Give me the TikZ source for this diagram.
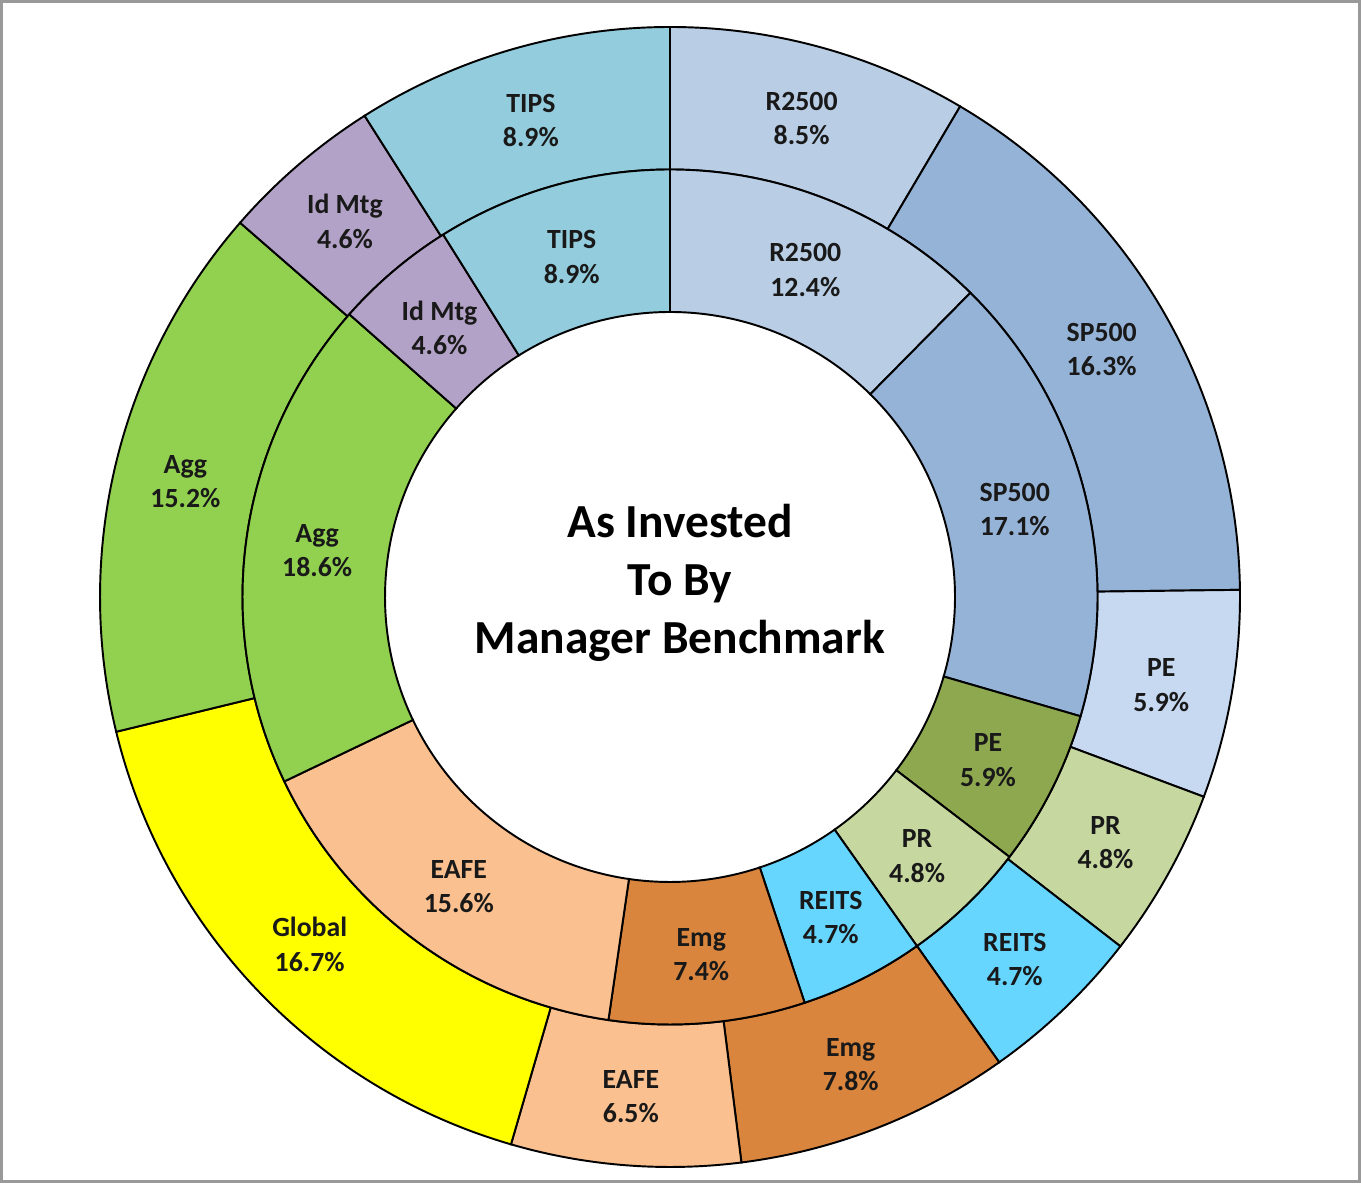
\documentclass[tikz,border=0pt]{standalone}
\usepackage{fontspec}
\setmainfont{Carlito}
\definecolor{cR}{HTML}{B9CDE5}
\definecolor{cSP}{HTML}{95B3D7}
\definecolor{cPEo}{HTML}{C6D9F1}
\definecolor{cPEi}{HTML}{8EA850}
\definecolor{cPR}{HTML}{C6D8A0}
\definecolor{cRE}{HTML}{66D6FF}
\definecolor{cEm}{HTML}{D9853D}
\definecolor{cEA}{HTML}{FAC090}
\definecolor{cGl}{HTML}{FFFF00}
\definecolor{cAgg}{HTML}{92D050}
\definecolor{cId}{HTML}{B3A2C7}
\definecolor{cTI}{HTML}{93CDDD}
\begin{document}
\begin{tikzpicture}[x=0.02cm,y=0.02cm,
  lbl/.style={align=center, text=black!90, yshift=-0.05cm, font=\fontsize{15.8}{19.5}\selectfont\bfseries},
  slice/.style={draw=black, line width=1.1pt}]
\useasboundingbox (0,0) rectangle (1361,1183);
\draw[black!40, line width=1.3pt] (1.5,1.5) rectangle (1359.5,1181.5);
\begin{scope}[shift={(670,586)}]
% outer ring
\foreach \s/\e/\c/\n/\l/\p in {0/8.5/cR/oA/R2500/8.5, 8.5/24.8/cSP/oB/SP500/16.3, 24.8/30.7/cPEo/oC/PE/5.9, 30.7/35.5/cPR/oD/PR/4.8, 35.5/40.2/cRE/oE/REITS/4.7, 40.2/48.0/cEm/oF/Emg/7.8, 48.0/54.5/cEA/oG/EAFE/6.5, 54.5/71.2/cGl/oH/Global/16.7, 71.2/86.4/cAgg/oI/Agg/15.2, 86.4/91.0/cId/oJ/Id Mtg/4.6, 91.0/100/cTI/oK/TIPS/8.9} {
  \pgfmathsetmacro\aa{90-3.6*\s}
  \pgfmathsetmacro\ab{90-3.6*\e}
  \pgfmathsetmacro\am{(\aa+\ab)/2}
  \filldraw[slice, fill=\c] (\aa:570) arc (\aa:\ab:570) -- (\ab:427.5) arc (\ab:\aa:427.5) -- cycle;
  \node[lbl] (\n) at (\am:498.75) {\l\\\p\%};
}
% inner ring
\foreach \s/\e/\c/\n/\l/\p in {0/12.4/cR/iA/R2500/12.4, 12.4/29.5/cSP/iB/SP500/17.1, 29.5/35.4/cPEi/iC/PE/5.9, 35.4/40.2/cPR/iD/PR/4.8, 40.2/44.9/cRE/iE/REITS/4.7, 44.9/52.3/cEm/iF/Emg/7.4, 52.3/67.9/cEA/iG/EAFE/15.6, 67.9/86.5/cAgg/iH/Agg/18.6, 86.5/91.1/cId/iI/Id Mtg/4.6, 91.1/100/cTI/iJ/TIPS/8.9} {
  \pgfmathsetmacro\aa{90-3.6*\s}
  \pgfmathsetmacro\ab{90-3.6*\e}
  \pgfmathsetmacro\am{(\aa+\ab)/2}
  \filldraw[slice, fill=\c] (\aa:427.5) arc (\aa:\ab:427.5) -- (\ab:285) arc (\ab:\aa:285) -- cycle;
  \node[lbl] (\n) at (\am:356.25) {\l\\\p\%};
}
\end{scope}
\node[align=center, font=\fontsize{27}{33}\selectfont\bfseries] (title) at (680,600) {As Invested\\To By\\Manager Benchmark};
\end{tikzpicture}
\end{document}
